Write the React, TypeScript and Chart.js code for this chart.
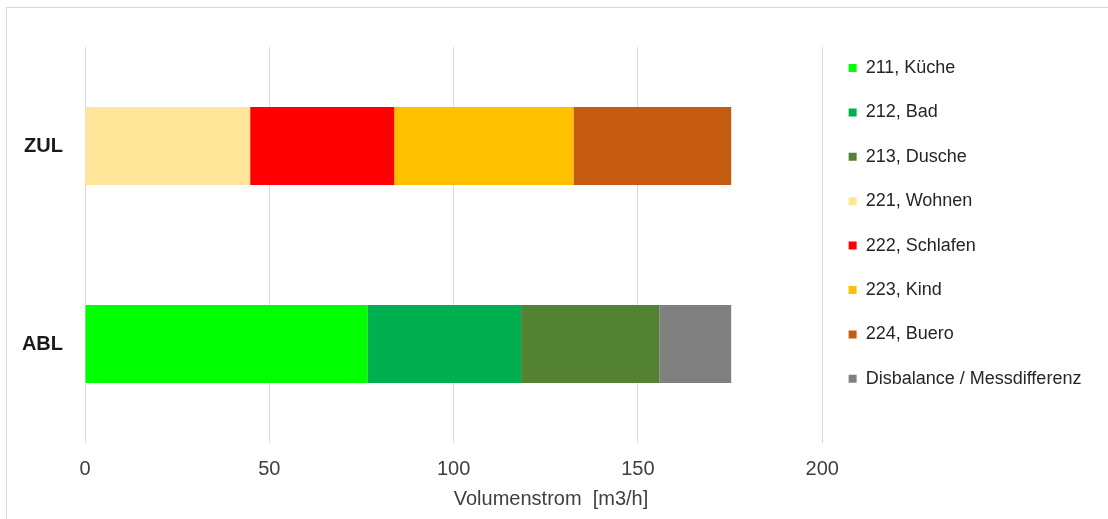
import React, { useEffect, useRef } from 'react';
import { Chart, registerables } from 'chart.js';

Chart.register(...registerables);

const categories = ['ZUL', 'ABL'];
const seriesNames = [
  '211, Küche',
  '212, Bad',
  '213, Dusche',
  '221, Wohnen',
  '222, Schlafen',
  '223, Kind',
  '224, Buero',
  'Disbalance / Messdifferenz',
];
const kueche = [null, 76.6];
const bad = [null, 41.7];
const dusche = [null, 37.5];
const wohnen = [44.8, null];
const schlafen = [39.1, null];
const kind = [48.6, null];
const buero = [42.8, null];
const disbalance = [null, 19.5];
const seriesColors = ['#00FF00', '#00B050', '#548235', '#FFE699', '#FF0000', '#FFC000', '#C55A11', '#808080'];
const xTicks = [0, 50, 100, 150, 200];
const axisTitle = 'Volumenstrom  [m3/h]';

export default function App() {
  const ref = useRef<HTMLCanvasElement>(null);
  useEffect(() => {
    const FONT = "'Liberation Sans', Arial, sans-serif";
    const values = [kueche, bad, dusche, wohnen, schlafen, kind, buero, disbalance];
    const chart = new Chart(ref.current!, {
      type: 'bar',
      data: {
        labels: categories,
        datasets: seriesNames.map((n, i) => ({
          label: n,
          data: values[i],
          backgroundColor: seriesColors[i],
          borderWidth: 0,
          barPercentage: 0.394,
          categoryPercentage: 1,
        })),
      },
      options: {
        indexAxis: 'y',
        responsive: false,
        animation: false,
        layout: { padding: { top: 32.6, left: 10.6, right: 16.6, bottom: 7.5 } },
        scales: {
          x: {
            stacked: true,
            min: xTicks[0],
            max: xTicks[xTicks.length - 1],
            ticks: { stepSize: xTicks[1] - xTicks[0], padding: 14, color: '#404040', font: { size: 20, family: FONT } },
            grid: { color: '#d9d9d9', drawTicks: false, lineWidth: 1 },
            border: { display: false },
            afterFit: (s: any) => { s.height = 44.5; },
          },
          x2: {
            type: 'linear',
            position: 'top',
            display: true,
            grid: { display: false, drawTicks: false },
            ticks: { display: false },
            border: { display: false },
            afterFit: (s: any) => { s.height = 14.4; },
          },
          y: {
            stacked: true,
            grid: { display: false, drawTicks: false },
            border: { display: false },
            ticks: { padding: 22, color: '#1a1a1a', font: { size: 20, weight: 'bold', family: FONT } },
            afterFit: (s: any) => { s.width = 74.4; },
          },
        },
        plugins: {
          legend: {
            position: 'right',
            align: 'start',
            labels: { boxWidth: 8, boxHeight: 8, padding: 26.4, color: '#262626', font: { size: 18, family: FONT } },
          },
          title: {
            display: true,
            position: 'bottom',
            text: axisTitle,
            color: '#404040',
            font: { size: 20, weight: 'normal', family: FONT },
            padding: 0,
          },
          tooltip: { enabled: false },
        },
      } as any,
    });
    return () => chart.destroy();
  }, []);
  return (
    <div style={{ position: 'fixed', left: 0, top: 0, width: 1108, height: 519, background: '#fff', overflow: 'hidden' }}>
      <div style={{ position: 'absolute', left: 6, top: 7, right: -4, bottom: -4, borderLeft: '1px solid #d9d9d9', borderTop: '1px solid #d9d9d9' }} />
      <canvas ref={ref} width={1108} height={519} style={{ position: 'absolute', left: 0, top: 0 }} />
    </div>
  );
}
